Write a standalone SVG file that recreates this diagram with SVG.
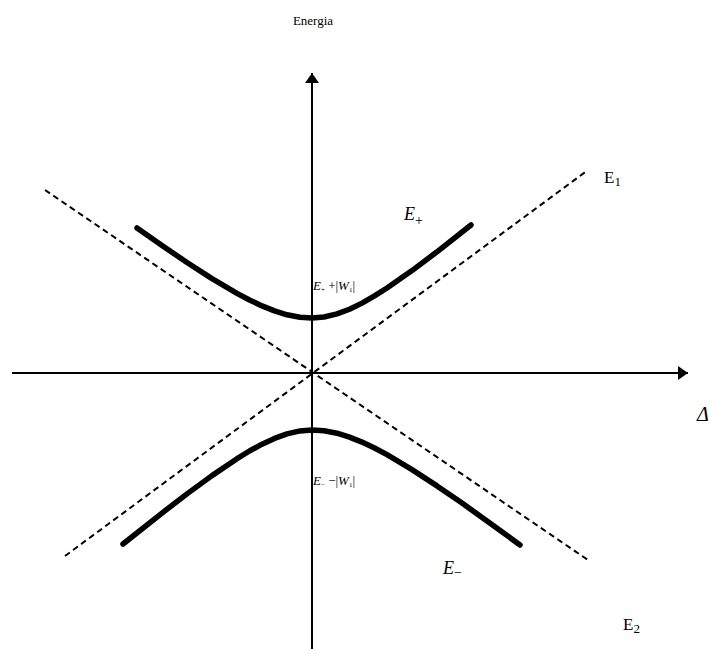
<svg xmlns="http://www.w3.org/2000/svg" width="710" height="649" viewBox="0 0 710 649">
<style>
.axis{stroke:#000;stroke-width:2;fill:none}
.dash{stroke:#000;stroke-width:2;stroke-dasharray:6,4;fill:none}
.curve{stroke:#000;stroke-width:5.5;fill:none;stroke-linecap:round;stroke-linejoin:round}
.t{font-family:'Liberation Serif','DejaVu Serif',serif;fill:#000}
.it{font-style:italic}
</style>
<defs>
<marker id="arr" viewBox="0 0 10 14" refX="10" refY="7" markerWidth="10" markerHeight="14" markerUnits="userSpaceOnUse" orient="auto">
<path d="M0,0 L10,7 L0,14 Z" fill="#000"/>
</marker>
</defs>
<rect width="710" height="649" fill="#fff"/>
<g id="connectors">
<line class="axis" x1="312" y1="649" x2="312" y2="73" marker-end="url(#arr)"/>
<line class="axis" x1="12" y1="373" x2="688" y2="373" marker-end="url(#arr)"/>
<line class="dash" x1="45" y1="190" x2="588" y2="560"/>
<line class="dash" x1="65" y1="556" x2="588" y2="170"/>
</g>
<g id="upper-branch">
<polyline class="curve" points="137,228 162,245.5 187,262.5 212,278.6 237,293.4 249.5,300 262,305.9 274.5,310.9 287,314.8 300,317.2 312,318 324,317 337,313.9 349.5,309.2 362,303.1 374.5,295.9 387,288 412,270.6 437,251.8 471,225"/>
</g>
<g id="lower-branch">
<polyline class="curve" points="123,544 162,513.1 187,493.9 212,475.6 237,458.7 249.5,451 262,444.2 274.5,438.4 287,433.9 300,430.9 312,430 324,430.8 337,433.2 349.5,437.1 362,442.1 374.5,448 387,454.7 412,469.6 437,485.9 462,503.1 487,520.9 520,545"/>
</g>
<g id="labels">
<text class="t" x="313" y="25" font-size="13" text-anchor="middle">Energia</text>
<text class="t" x="604" y="183" font-size="17">E<tspan font-size="13" dy="3">1</tspan></text>
<text class="t" x="623" y="630" font-size="17">E<tspan font-size="13" dy="3">2</tspan></text>
<text class="t it" x="404" y="220" font-size="18">E<tspan font-size="14" dy="5" font-style="normal">+</tspan></text>
<text class="t it" x="443" y="574" font-size="18">E<tspan font-size="14" dy="3" font-style="normal">−</tspan></text>
<text class="t" x="313" y="290" font-size="13"><tspan class="it">E</tspan><tspan font-size="7" dy="2">+</tspan><tspan dy="-2"> +|</tspan><tspan class="it">W</tspan><tspan font-size="7" dy="2">1</tspan><tspan dy="-2">|</tspan></text>
<text class="t" x="313" y="485" font-size="13"><tspan class="it">E</tspan><tspan font-size="7" dy="2">−</tspan><tspan dy="-2"> −|</tspan><tspan class="it">W</tspan><tspan font-size="7" dy="2">1</tspan><tspan dy="-2">|</tspan></text>
<text class="t it" x="697" y="421" font-size="20">Δ</text>
</g>
</svg>
